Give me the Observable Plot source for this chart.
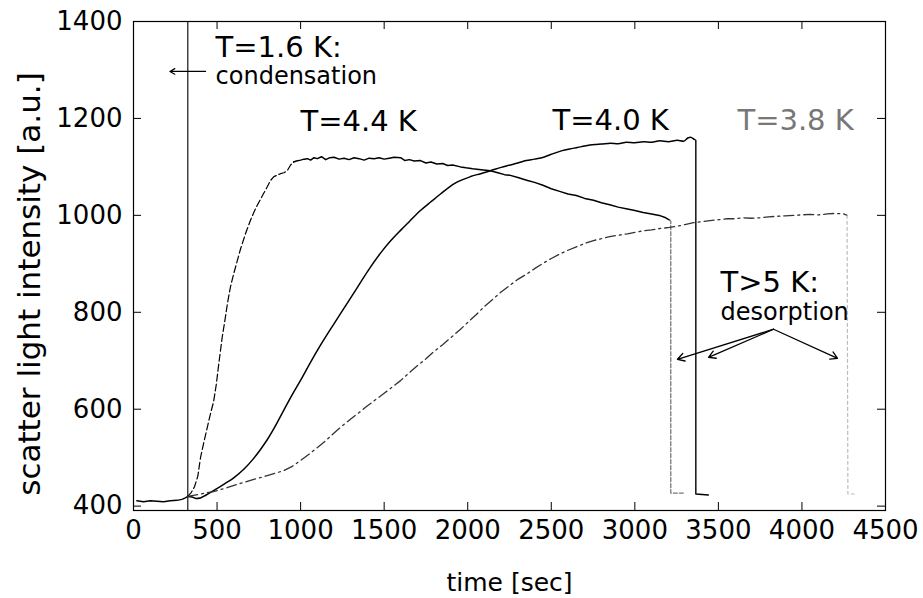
<!DOCTYPE html>
<html>
<head>
<meta charset="utf-8">
<script src="https://cdn.jsdelivr.net/npm/d3@7"></script>
<script src="https://cdn.jsdelivr.net/npm/@observablehq/plot@0.6"></script>
<style>
  html, body { margin: 0; padding: 0; background: white; }
  svg { display: block; }
</style>
</head>
<body>
<div id="chart"></div>
<script>
// ---- data (time [sec], scatter light intensity [a.u.]) ----
const xTicks = [0, 500, 1000, 1500, 2000, 2500, 3000, 3500, 4000, 4500];
const yTicks = [400, 600, 800, 1000, 1200, 1400];

const condensationTime = 325;

const baseline = [[20,411],[60,409],[100,411],[140,410],[180,409],[220,411],[260,412],[290,414],[310,417],[325,420]];

const series44 = [[325,420],[345,428],[365,440],[385,462],[401,500],[420,530],[440,560],[460,590],[479,615],[495,650],[509,690],[531,749],[550,790],[563,820],[580,852],[600,880],[620,905],[640,930],[670,962],[700,990],[720,1006],[742,1022],[760,1033],[780,1046],[802,1060],[820,1072],[840,1080],[860,1083],[880,1086],[900,1088],[920,1092],[940,1104],[958,1110],[975,1112],[1000,1114],[1020,1116],[1041,1117],[1060,1114],[1080,1119],[1100,1117],[1125,1121],[1150,1115],[1175,1119],[1200,1120],[1230,1116],[1260,1118],[1290,1115],[1320,1119],[1350,1117],[1380,1114],[1410,1118],[1440,1117],[1470,1119],[1500,1116],[1530,1118],[1560,1120],[1598,1119],[1625,1113],[1650,1115],[1680,1112],[1717,1113],[1750,1108],[1780,1110],[1815,1106],[1850,1107],[1880,1103],[1910,1104],[1957,1100],[1990,1098],[2030,1096],[2080,1094],[2136,1092],[2180,1088],[2220,1084],[2250,1083],[2300,1078],[2358,1072],[2400,1068],[2450,1062],[2500,1055],[2555,1049],[2600,1044],[2650,1041],[2700,1035],[2753,1031],[2800,1026],[2850,1022],[2900,1017],[2956,1013],[3000,1010],[3050,1006],[3100,1003],[3154,999],[3185,995],[3208,990]];
const drop44 = [[3208,990],[3215,988],[3215,427],[3290,427]];

const series40 = [[325,420],[350,419],[375,416],[400,417],[430,422],[479,432],[540,445],[598,458],[660,476],[718,498],[760,517],[802,538],[850,566],[898,597],[950,630],[1009,665],[1060,697],[1119,732],[1190,771],[1259,808],[1339,851],[1400,884],[1478,922],[1540,948],[1598,969],[1650,987],[1717,1010],[1780,1028],[1837,1044],[1917,1065],[2017,1080],[2077,1086],[2136,1092],[2200,1099],[2256,1104],[2300,1108],[2350,1113],[2400,1116],[2454,1120],[2500,1126],[2560,1133],[2610,1137],[2657,1140],[2700,1143],[2760,1146],[2800,1147],[2854,1149],[2900,1148],[2950,1151],[3000,1150],[3052,1152],[3100,1151],[3150,1154],[3200,1152],[3255,1155],[3290,1153],[3320,1160],[3333,1161],[3351,1158]];
const drop40 = [[3351,1158],[3365,1155],[3365,425],[3440,423]];

const series38 = [[325,420],[400,425],[479,430],[560,438],[640,447],[700,453],[800,463],[898,473],[950,482],[999,494],[1050,507],[1101,521],[1150,535],[1197,550],[1250,566],[1300,580],[1350,593],[1400,607],[1450,620],[1500,633],[1550,646],[1598,659],[1650,675],[1700,690],[1750,704],[1795,718],[1850,733],[1900,748],[1957,765],[2000,779],[2050,795],[2100,812],[2154,828],[2200,842],[2250,855],[2300,868],[2358,880],[2400,890],[2450,901],[2500,911],[2555,921],[2600,928],[2650,935],[2700,942],[2753,948],[2800,952],[2850,956],[2900,959],[2956,962],[3000,965],[3050,968],[3100,970],[3154,973],[3208,975],[3260,978],[3300,981],[3351,985],[3400,987],[3450,989],[3500,991],[3554,993],[3600,993],[3650,995],[3700,994],[3752,995],[3800,997],[3850,998],[3900,999],[3950,1000],[4000,1001],[4050,1002],[4100,1001],[4153,1003],[4200,1004],[4249,1003],[4270,1000]];
const drop38 = [[4270,1000],[4275,425],[4330,425]];

// annotation texts anchored in data space (time, intensity)
const bigLabels = [
  {text: "T=1.6 K:", t: 491, v: 1327},
  {text: "T=4.4 K", t: 999, v: 1175},
  {text: "T=4.0 K", t: 2507, v: 1177}
];
const greyLabels = [{text: "T=3.8 K", t: 3614, v: 1177}];
const smallLabels = [
  {text: "condensation", t: 491, v: 1272},
  {text: "desorption", t: 3513, v: 785}
];
const desorbLabel = [{text: "T>5 K:", t: 3513, v: 842}];

const condensationArrow = [{t1: 431, v1: 1297, t2: 218, v2: 1297}];
const desorptionArrows = [
  {t1: 3830, v1: 765, t2: 3255, v2: 703},
  {t1: 3830, v1: 765, t2: 3441, v2: 707},
  {t1: 3830, v1: 765, t2: 4213, v2: 705}
];

const xLabel = "time [sec]";
const yLabel = "scatter light intensity [a.u.]";

const W = 923, H = 598, ML = 133, MR = 38, MT = 21, MB = 88;
const plotW = W - ML - MR, plotH = H - MT - MB;

const chart = Plot.plot({
  width: W, height: H,
  marginLeft: ML, marginRight: MR, marginTop: MT, marginBottom: MB,
  x: {domain: [0, 4500]},
  y: {domain: [391, 1400]},
  style: {fontFamily: "DejaVu Sans", background: "white", color: "black", overflow: "visible"},
  marks: [
    // axes (labels only)
    Plot.axisX({ticks: xTicks, tickSize: 0, tickPadding: 10, fontSize: 26, tickFormat: d3.format("d"), label: null}),
    Plot.axisY({ticks: yTicks, tickSize: 0, tickPadding: 11, fontSize: 26, tickFormat: d3.format("d"), label: null}),
    // inward ticks on all four sides
    Plot.tickX(xTicks, {x: d => d, insetTop: plotH - 8, stroke: "black"}),
    Plot.tickX(xTicks, {x: d => d, insetBottom: plotH - 8, stroke: "black"}),
    Plot.tickY(yTicks, {y: d => d, insetRight: plotW - 8, stroke: "black"}),
    Plot.tickY(yTicks, {y: d => d, insetLeft: plotW - 8, stroke: "black"}),
    Plot.frame({stroke: "black", strokeWidth: 1.2}),
    // axis titles
    Plot.text([yLabel], {frameAnchor: "left", text: d => d, rotate: -90, textAnchor: "middle", dx: -94, dy: 18, fontSize: 31, lineAnchor: "bottom", fill: "black"}),
    Plot.text([xLabel], {frameAnchor: "bottom", text: d => d, textAnchor: "middle", dy: 80, fontSize: 25, lineAnchor: "bottom", fill: "black"}),
    // condensation marker
    Plot.ruleX([condensationTime], {stroke: "black", strokeWidth: 1.1}),
    // curves
    Plot.line(baseline, {x: d => d[0], y: d => d[1], stroke: "black", strokeWidth: 1.4}),
    Plot.line(series44.filter(d => d[0] <= 960), {x: d => d[0], y: d => d[1], stroke: "black", strokeWidth: 1.2, strokeDasharray: "7,3"}),
    Plot.line(series44.filter(d => d[0] >= 958), {x: d => d[0], y: d => d[1], stroke: "black", strokeWidth: 1.5}),
    Plot.line(drop44, {x: d => d[0], y: d => d[1], stroke: "#777", strokeWidth: 1.3, strokeDasharray: "4,2"}),
    Plot.line(series40, {x: d => d[0], y: d => d[1], stroke: "black", strokeWidth: 1.5, curve: "monotone-x"}),
    Plot.line(drop40, {x: d => d[0], y: d => d[1], stroke: "black", strokeWidth: 1.4}),
    Plot.line(series38, {x: d => d[0], y: d => d[1], stroke: "#333", strokeWidth: 1.3, strokeDasharray: "10,4,2,4"}),
    Plot.line(drop38, {x: d => d[0], y: d => d[1], stroke: "#bbb", strokeWidth: 1.2, strokeDasharray: "3,3"}),
    // annotations
    Plot.text(bigLabels, {x: "t", y: "v", text: "text", textAnchor: "start", lineAnchor: "bottom", fontSize: 29, fill: "black"}),
    Plot.text(greyLabels, {x: "t", y: "v", text: "text", textAnchor: "start", lineAnchor: "bottom", fontSize: 29, fill: "#777"}),
    Plot.text(smallLabels, {x: "t", y: "v", text: "text", textAnchor: "start", lineAnchor: "bottom", fontSize: 24, fill: "black"}),
    Plot.text(desorbLabel, {x: "t", y: "v", text: "text", textAnchor: "start", lineAnchor: "bottom", fontSize: 29, fill: "black"}),
    Plot.arrow(condensationArrow, {x1: "t1", y1: "v1", x2: "t2", y2: "v2", stroke: "black", strokeWidth: 1.2, headLength: 7}),
    Plot.arrow(desorptionArrows, {x1: "t1", y1: "v1", x2: "t2", y2: "v2", stroke: "black", strokeWidth: 1.3, headLength: 9})
  ]
});
document.getElementById("chart").appendChild(chart);
</script>
</body>
</html>
